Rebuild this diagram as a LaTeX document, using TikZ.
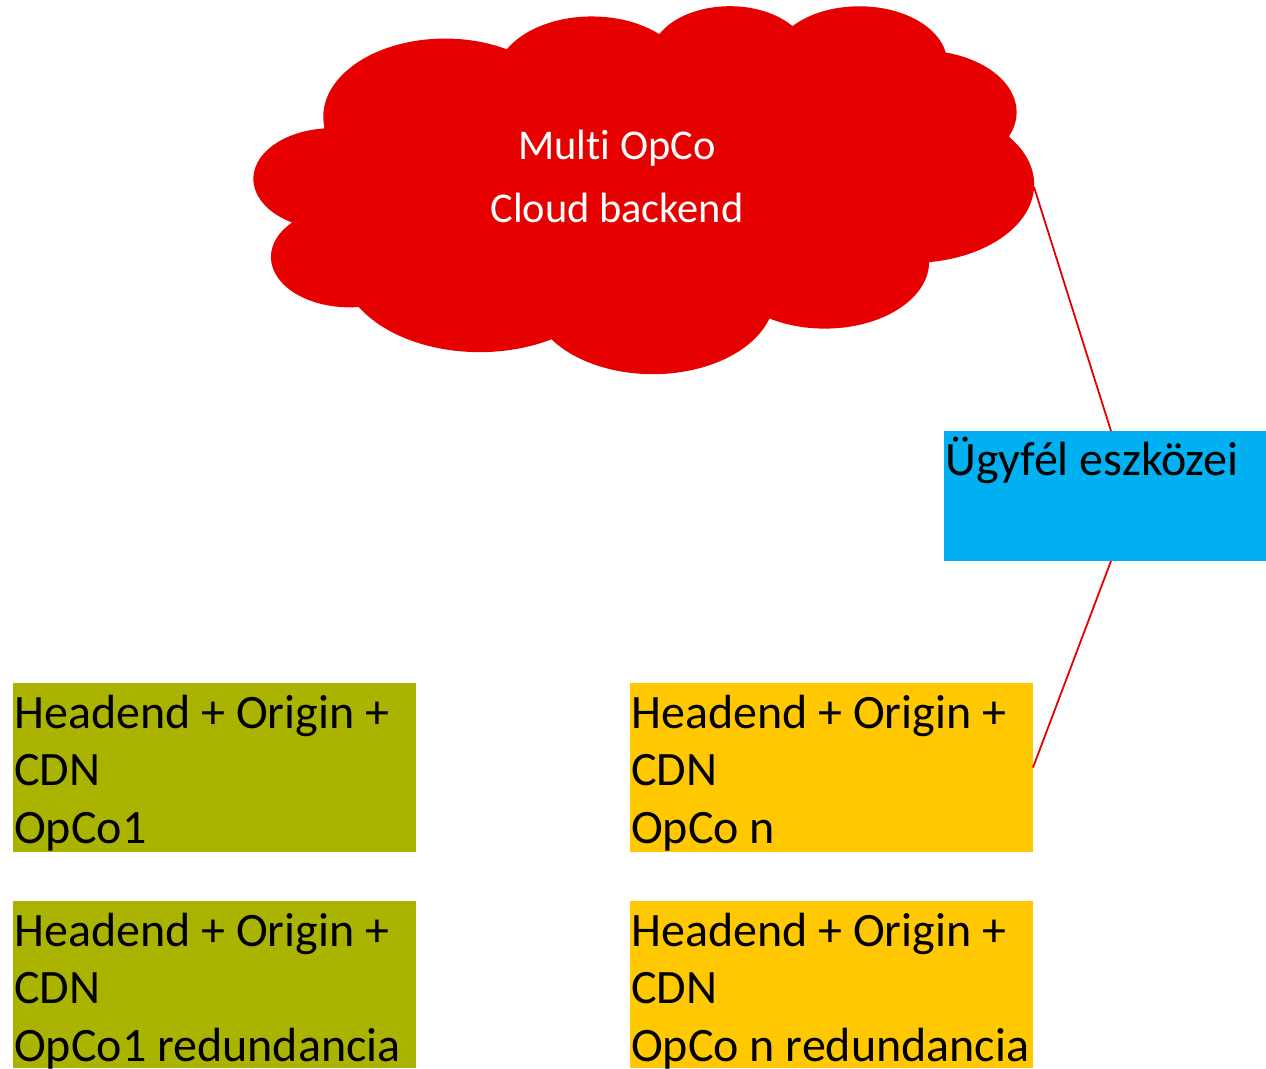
\documentclass[tikz,border=0pt]{standalone}
\usepackage{fontspec}
\setmainfont{Carlito}[Ligatures=NoCommon]

\definecolor{cloudred}{RGB}{230,0,0}
\definecolor{linkred}{RGB}{230,0,0}
\definecolor{devblue}{RGB}{0,176,240}
\definecolor{opcoolive}{RGB}{170,180,0}
\definecolor{opcogold}{RGB}{255,200,0}

% Cloud outline: eleven elliptical arcs in a 43200 x 43200 frame.
% The angles are ray angles; turn them into parametric start/delta angles.
\foreach \n/\wr/\hr/\sa/\sw in {
  a/6753/9190/-190.4875/123.7805,
  b/5333/7267/-144.1024/89.9452,
  c/4365/5945/-145.8079/99.7230,
  d/4857/6595/-130.9861/117.2417,
  e/5333/7273/-78.7089/109.0269,
  f/6775/9220/-46.2673/130.2690,
  g/5785/7867/0.6250/114.0333,
  h/6752/9215/22.4516/115.1726,
  i/7720/10543/66.2426/75.7110,
  j/4360/5918/-274.9421/146.7356,
  k/4345/5945/-246.8285/152.5189}{%
  \pgfmathsetmacro\cEnd{\sa+\sw}%
  \pgfmathsetmacro\cTs{atan2(\wr*sin(\sa),\hr*cos(\sa))}%
  \pgfmathsetmacro\cTe{atan2(\wr*sin(\cEnd),\hr*cos(\cEnd))}%
  \pgfmathsetmacro\cDt{mod(\cTe-\cTs+720,360)}%
  \expandafter\xdef\csname cloudS\n\endcsname{\cTs}%
  \expandafter\xdef\csname cloudD\n\endcsname{\cDt}%
}

\tikzset{
  panel/.style={rectangle, inner sep=0pt, outer sep=0pt, anchor=north west,
    minimum width=403pt, minimum height=169pt},
  boxtext/.style={anchor=base west, inner sep=0pt, text=black,
    font=\fontsize{48}{57.5}\selectfont},
  cloudtext/.style={anchor=base, inner sep=0pt, text=white,
    font=\fontsize{42.4}{63}\selectfont},
  link/.style={draw=linkred, line width=1.8pt},
}

\begin{document}
\begin{tikzpicture}[x=1pt, y=-1pt]
\useasboundingbox (0,0) rectangle (1266,1068);

% backend cloud
\begin{scope}[shift={(254,5)}, x=0.0180556pt, y=-0.0085185pt]
\fill[cloudred] (3900,14370)
  arc[x radius=6753, y radius=9190,  start angle=\cloudSa, delta angle=\cloudDa]
  arc[x radius=5333, y radius=7267,  start angle=\cloudSb, delta angle=\cloudDb]
  arc[x radius=4365, y radius=5945,  start angle=\cloudSc, delta angle=\cloudDc]
  arc[x radius=4857, y radius=6595,  start angle=\cloudSd, delta angle=\cloudDd]
  arc[x radius=5333, y radius=7273,  start angle=\cloudSe, delta angle=\cloudDe]
  arc[x radius=6775, y radius=9220,  start angle=\cloudSf, delta angle=\cloudDf]
  arc[x radius=5785, y radius=7867,  start angle=\cloudSg, delta angle=\cloudDg]
  arc[x radius=6752, y radius=9215,  start angle=\cloudSh, delta angle=\cloudDh]
  arc[x radius=7720, y radius=10543, start angle=\cloudSi, delta angle=\cloudDi]
  arc[x radius=4360, y radius=5918,  start angle=\cloudSj, delta angle=\cloudDj]
  arc[x radius=4345, y radius=5945,  start angle=\cloudSk, delta angle=\cloudDk]
  -- cycle;
\end{scope}
\coordinate (cloudtip) at (1034,187);
\node[cloudtext] (cloud) at (617,159)
  {\parbox[t]{320pt}{\centering Multi OpCo\\Cloud backend}};

% customer devices
\node[panel, fill=devblue, minimum width=322pt, minimum height=130pt] (dev) at (944,431) {};
\node[boxtext] (devt) at (945,475) {Ügyfél eszközei};

% operator sites
\node[panel, fill=opcoolive] (g1) at (13,683) {};
\node[panel, fill=opcoolive, minimum height=167pt] (g2) at (13,901) {};
\node[panel, fill=opcogold] (y1) at (630,683) {};
\node[panel, fill=opcogold, minimum height=167pt] (y2) at (630,901) {};

\node[boxtext] (g1t) at (14,728) {\parbox[t]{440pt}{Headend + Origin +\\CDN\\OpCo1}};
\node[boxtext] (g2t) at (14,946) {\parbox[t]{440pt}{Headend + Origin +\\CDN\\OpCo1 redundancia}};
\node[boxtext] (y1t) at (631,728) {\parbox[t]{440pt}{Headend + Origin +\\CDN\\OpCo n}};
\node[boxtext] (y2t) at (631,946) {\parbox[t]{440pt}{Headend + Origin +\\CDN\\OpCo n redundancia}};

% connections
\draw[link] (cloudtip) -- ([xshift=6pt]dev.north);
\draw[link] ([xshift=6pt]dev.south) -- (y1.east);
\end{tikzpicture}
\end{document}
